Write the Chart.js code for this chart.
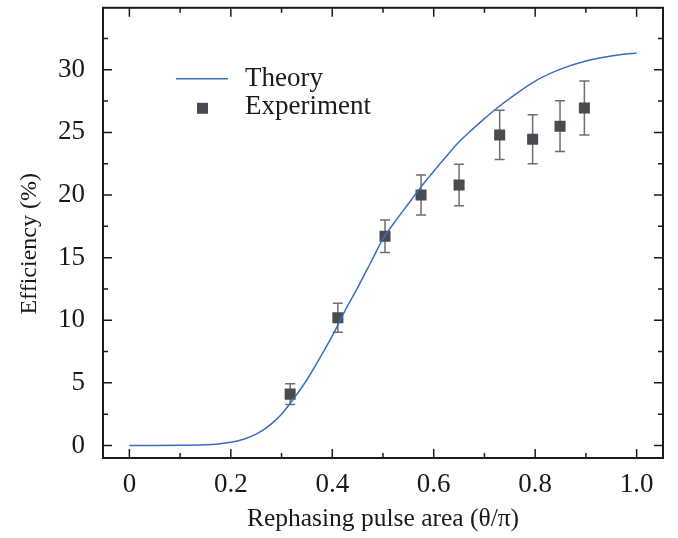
<!DOCTYPE html>
<html>
<head>
<meta charset="utf-8">
<script src="https://cdn.jsdelivr.net/npm/chart.js@4.4.1/dist/chart.umd.min.js"></script>
<style>
  html, body { margin: 0; padding: 0; background: #fff; }
</style>
</head>
<body>
<canvas id="efficiency" width="678" height="538"></canvas>
<script>
// theory curve
const theoryX = [0, 0.05, 0.1, 0.15, 0.175, 0.2, 0.225, 0.25, 0.275, 0.3, 0.325, 0.35, 0.375, 0.4, 0.425, 0.45, 0.475, 0.5,
  0.525, 0.55, 0.575, 0.6, 0.625, 0.65, 0.675, 0.7, 0.725, 0.75, 0.8, 0.85, 0.9, 0.95, 1.0];
const theoryY = [0, 0, 0.01, 0.06, 0.12, 0.25, 0.5, 0.9, 1.57, 2.5, 3.8, 5.25, 6.95, 8.75, 10.75, 12.6, 14.55, 16.5,
  17.95, 19.3, 20.65, 21.9, 23.1, 24.25, 25.2, 26.1, 26.95, 27.72, 29.1, 30.05, 30.7, 31.1, 31.35];

// measured points + error half-widths
const expX = [0.317, 0.411, 0.504, 0.575, 0.650, 0.730, 0.795, 0.849, 0.897];
const expY = [4.1, 10.2, 16.7, 20.0, 20.8, 24.8, 24.45, 25.5, 26.95];
const expErr = [0.83, 1.16, 1.3, 1.6, 1.66, 1.97, 1.96, 2.02, 2.16];

const xTicks = [0, 0.2, 0.4, 0.6, 0.8, 1.0];
const xTickLabels = ["0", "0.2", "0.4", "0.6", "0.8", "1.0"];
const yTicks = [0, 5, 10, 15, 20, 25, 30];
const yTickLabels = ["0", "5", "10", "15", "20", "25", "30"];

const seriesNames = ["Theory", "Experiment"];
const yTitle = "Efficiency (%)";
const FONT = "'Liberation Serif', 'Times New Roman', serif";
const INK = "#1a1a1a";

// error bars under the squares
const errorBars = {
  id: "errorBars",
  beforeDatasetsDraw(chart) {
    const { ctx, scales: { x, y } } = chart;
    ctx.save();
    ctx.strokeStyle = "#6e6e6e";
    ctx.lineWidth = 1.5;
    expX.forEach((v, i) => {
      const px = x.getPixelForValue(v);
      const top = y.getPixelForValue(expY[i] + expErr[i]);
      const bot = y.getPixelForValue(expY[i] - expErr[i]);
      ctx.beginPath();
      ctx.moveTo(px, top); ctx.lineTo(px, bot);
      ctx.moveTo(px - 5, top); ctx.lineTo(px + 5, top);
      ctx.moveTo(px - 5, bot); ctx.lineTo(px + 5, bot);
      ctx.stroke();
    });
    ctx.restore();
  },
};

// box frame with inward major/minor ticks on all four sides, plus the y title
const frame = {
  id: "frame",
  afterDraw(chart) {
    const { ctx, chartArea: a, scales: { x, y } } = chart;
    ctx.save();
    ctx.strokeStyle = INK;
    ctx.lineWidth = 1.5;
    const minors = (vals, lo, hi) => {
      const step = vals[1] - vals[0];
      const out = [];
      for (let v = vals[0] - step / 2; v < hi; v += step) if (v > lo) out.push(v);
      return out;
    };
    const xt = x.ticks.map((t) => [t.value, 9]).concat(minors(xTicks, x.min, x.max).map((v) => [v, 5]));
    const yt = y.ticks.map((t) => [t.value, 9]).concat(minors(yTicks, y.min, y.max).map((v) => [v, 5]));
    ctx.beginPath();
    xt.forEach(([v, len]) => {
      const px = x.getPixelForValue(v);
      ctx.moveTo(px, a.bottom); ctx.lineTo(px, a.bottom - len);
      ctx.moveTo(px, a.top); ctx.lineTo(px, a.top + len);
    });
    yt.forEach(([v, len]) => {
      const py = y.getPixelForValue(v);
      ctx.moveTo(a.left, py); ctx.lineTo(a.left + len, py);
      ctx.moveTo(a.right, py); ctx.lineTo(a.right - len, py);
    });
    ctx.stroke();
    ctx.lineWidth = 2;
    ctx.strokeRect(a.left, a.top, a.right - a.left, a.bottom - a.top);

    // y title sits a bit below the axis middle in the original
    ctx.translate(29.5, a.top + 236);
    ctx.rotate(-Math.PI / 2);
    ctx.font = "24px " + FONT;
    ctx.fillStyle = INK;
    ctx.textAlign = "center";
    ctx.textBaseline = "middle";
    ctx.fillText(yTitle, 0, 0);
    ctx.restore();
  },
};

// legend drawn inside the plot, upper left
const innerLegend = {
  id: "innerLegend",
  afterDraw(chart) {
    const { ctx, chartArea: a } = chart;
    const ds = chart.data.datasets;
    const x0 = a.left + 73, tx = a.left + 142;
    ctx.save();
    ctx.font = "27px " + FONT;
    ctx.fillStyle = INK;
    ctx.textBaseline = "middle";
    ctx.strokeStyle = ds[0].borderColor;
    ctx.lineWidth = ds[0].borderWidth;
    ctx.beginPath();
    ctx.moveTo(x0, a.top + 71); ctx.lineTo(x0 + 52, a.top + 71);
    ctx.stroke();
    ctx.fillText(ds[0].label, tx, a.top + 71);
    ctx.fillStyle = ds[1].backgroundColor;
    ctx.fillRect(x0 + 21, a.top + 95, 11, 11);
    ctx.fillStyle = INK;
    ctx.fillText(ds[1].label, tx, a.top + 99);
    ctx.restore();
  },
};

new Chart(document.getElementById("efficiency"), {
  type: "scatter",
  data: {
    datasets: [
      {
        type: "line",
        label: seriesNames[0],
        data: theoryX.map((v, i) => ({ x: v, y: theoryY[i] })),
        borderColor: "#3b6cc0",
        borderWidth: 1.5,
        pointRadius: 0,
        fill: false,
        cubicInterpolationMode: "monotone",
      },
      {
        type: "scatter",
        label: seriesNames[1],
        data: expX.map((v, i) => ({ x: v, y: expY[i] })),
        pointStyle: "rect",
        pointRadius: 7.8,
        backgroundColor: "#4a4b50",
        borderWidth: 0,
      },
    ],
  },
  options: {
    responsive: false,
    animation: false,
    devicePixelRatio: 1,
    layout: { padding: { left: 0, right: 15, top: 7, bottom: 0 } },
    plugins: { legend: { display: false }, tooltip: { enabled: false } },
    scales: {
      x: {
        type: "linear",
        min: -0.052,
        max: 1.052,
        afterBuildTicks: (s) => { s.ticks = xTicks.map((v) => ({ value: v })); },
        afterFit: (s) => { s.height = 80; s.paddingLeft = 0; s.paddingRight = 0; },
        grid: { display: false },
        border: { display: false },
        ticks: {
          padding: 3,
          color: INK,
          font: { family: FONT, size: 27 },
          maxRotation: 0,
          callback: (v, i) => xTickLabels[i],
        },
        title: {
          display: true,
          text: "Rephasing pulse area (θ/π)",
          color: INK,
          font: { family: FONT, size: 25.5 },
          padding: { top: 0, bottom: 3 },
        },
      },
      y: {
        min: -1,
        max: 34.95,
        afterBuildTicks: (s) => { s.ticks = yTicks.map((v) => ({ value: v })); },
        afterFit: (s) => { s.width = 103; s.paddingTop = 0; s.paddingBottom = 0; },
        grid: { display: false },
        border: { display: false },
        ticks: {
          padding: 10,
          color: INK,
          font: { family: FONT, size: 27 },
          callback: (v, i) => yTickLabels[i],
        },
        title: { display: false },
      },
    },
  },
  plugins: [errorBars, frame, innerLegend],
});
</script>
</body>
</html>
